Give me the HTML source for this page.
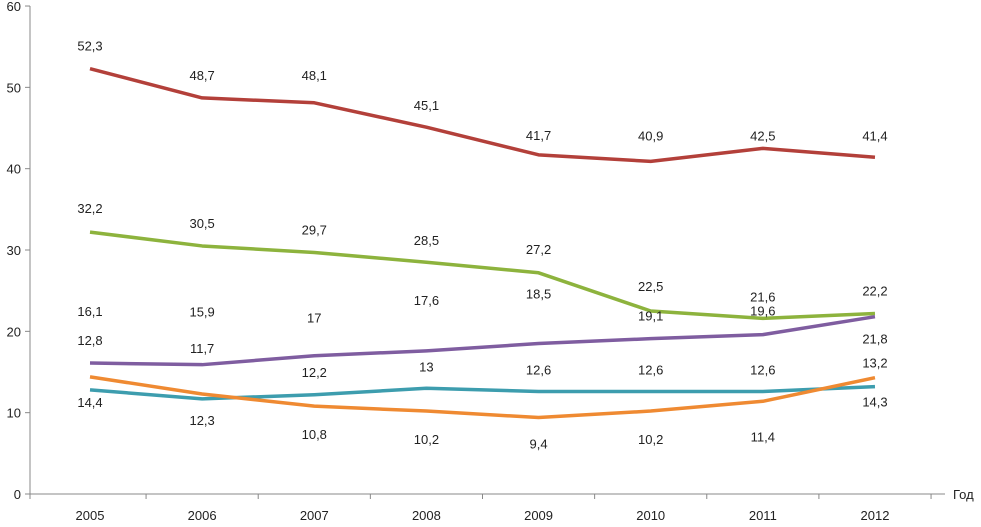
<!DOCTYPE html>
<html><head><meta charset="utf-8"><style>
body{margin:0;background:#fff}
svg text{font-family:"Liberation Sans",sans-serif;font-size:13px;fill:#222}
</style></head><body>
<svg id="chart" width="981" height="522" xmlns="http://www.w3.org/2000/svg"></svg>
<script>
const years=["2005","2006","2007","2008","2009","2010","2011","2012"];
const yTicks=[0,10,20,30,40,50,60];
const seriesRed=[52.3,48.7,48.1,45.1,41.7,40.9,42.5,41.4];
const seriesGreen=[32.2,30.5,29.7,28.5,27.2,22.5,21.6,22.2];
const seriesPurple=[16.1,15.9,17,17.6,18.5,19.1,19.6,21.8];
const seriesTeal=[12.8,11.7,12.2,13,12.6,12.6,12.6,13.2];
const seriesOrange=[14.4,12.3,10.8,10.2,9.4,10.2,11.4,14.3];
const svg=document.getElementById('chart');
const NS='http://www.w3.org/2000/svg';
const x0=90,xStep=112.14,yBase=494,yScale=8.133;
const xPos=i=>x0+i*xStep;
const yPos=v=>yBase-v*yScale;
function mk(tag,attrs){const e=document.createElementNS(NS,tag);for(const k in attrs)e.setAttribute(k,attrs[k]);svg.appendChild(e);return e;}
let ax=mk('line',{x1:30,y1:6,x2:30,y2:494,stroke:'#888','stroke-width':1});


let bx=mk('line',{x1:30,y1:494,x2:945,y2:494,stroke:'#888','stroke-width':1});


yTicks.forEach(t=>{
  const y=yPos(t);
  const tk=mk('line',{x1:25,y1:y,x2:30,y2:y,stroke:'#888'});
  
  
  const tx=mk('text',{x:21,y:y+5,'text-anchor':'end'});tx.textContent=t;
  
  
});
years.forEach((yr,i)=>{
  const x=xPos(i);
  const tk=mk('line',{x1:x+xStep/2,y1:494,x2:x+xStep/2,y2:499,stroke:'#888'});
  
  
  const tx=mk('text',{x:x,y:520,'text-anchor':'middle'});tx.textContent=yr;
  
  
});
const tk0=mk('line',{x1:30,y1:494,x2:30,y2:499,stroke:'#888'});


const god=mk('text',{x:953,y:499});god.textContent='Год';


const series=[
 {name:'red',data:seriesRed,color:'#b3403a',dy:[-23,-23,-28,-22,-20,-26,-13,-22]},
 {name:'green',data:seriesGreen,color:'#8db33d',dy:[-24,-23,-23,-22,-24,-25,-22,-23]},
 {name:'purple',data:seriesPurple,color:'#7f5da0',dy:[-52,-53,-38,-51,-50,-23,-24,22]},
 {name:'teal',data:seriesTeal,color:'#3d9dae',dy:[-50,-51,-23,-22,-22,-22,-22,-24]},
 {name:'orange',data:seriesOrange,color:'#ef8a32',dy:[25,26,28,28,26,28,35,24]}
];
series.forEach(s=>{
  const pts=s.data.map((v,i)=>xPos(i)+','+yPos(v)).join(' ');
  const pl=mk('polyline',{points:pts,fill:'none',stroke:s.color,'stroke-width':3.5,'stroke-linejoin':'round'});
  
  
});
series.forEach(s=>{
  s.data.forEach((v,i)=>{
    const tx=mk('text',{x:xPos(i),y:yPos(v)+s.dy[i]+5,'text-anchor':'middle'});
    tx.textContent=String(v).replace('.',',');
    
    
  });
});
</script>
</body></html>
